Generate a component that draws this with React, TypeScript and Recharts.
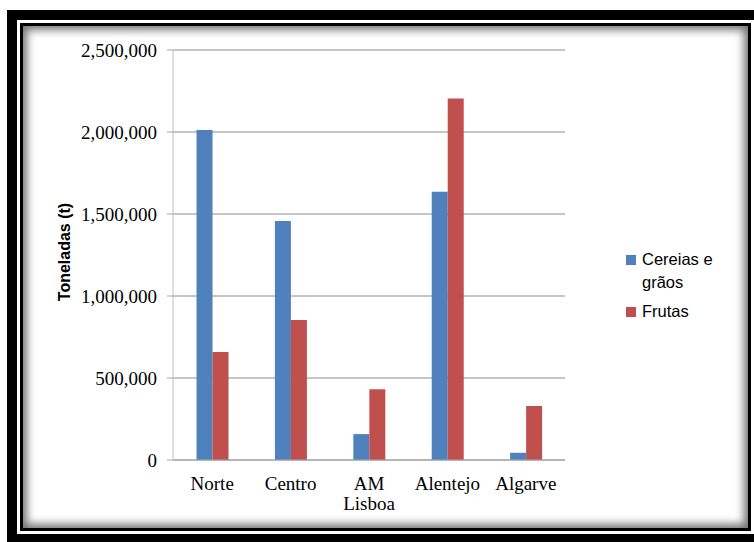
import React from 'react';
import { BarChart, Bar, XAxis, YAxis, CartesianGrid, Legend, Label } from 'recharts';

const regions = ['Norte', 'Centro', 'AM Lisboa', 'Alentejo', 'Algarve'];
const cereais = [2012000, 1457000, 158000, 1636000, 44000];
const frutas = [658000, 853000, 431000, 2205000, 329000];
const yTicks = [0, 500000, 1000000, 1500000, 2000000, 2500000];
const seriesNames = ['Cereias e grãos', 'Frutas'];
const colors = ['#4F81BD', '#C0504D'];

const data = regions.map((r, i) => ({ region: r, cereais: cereais[i], frutas: frutas[i] }));

const XTick = (props: any) => {
  const { x, y, payload } = props;
  const lines = String(payload.value).split(' ');
  return (
    <text x={x} y={y} textAnchor="middle" fontFamily="'Liberation Serif', serif" fontSize={19} fill="#000">
      {lines.map((l: string, i: number) => (
        <tspan key={i} x={x} dy={i === 0 ? 22 : 20}>{l}</tspan>
      ))}
    </text>
  );
};

const LegendContent = () => (
  <div style={{ position: 'relative', width: 120, height: 90, fontFamily: "'Liberation Sans', Arial, sans-serif", fontSize: 16.5, color: '#000' }}>
    <div style={{ position: 'absolute', left: 6, top: 10, width: 10, height: 10, background: colors[0] }} />
    <div style={{ position: 'absolute', left: 22, top: 3, lineHeight: '23px' }}>Cereias e<br />grãos</div>
    <div style={{ position: 'absolute', left: 6, top: 62, width: 10, height: 10, background: colors[1] }} />
    <div style={{ position: 'absolute', left: 22, top: 55, lineHeight: '23px' }}>{seriesNames[1]}</div>
  </div>
);

export default function App() {
  return (
    <div style={{ position: 'absolute', left: 0, top: 0, width: 754, height: 542, overflow: 'hidden', background: '#fff' }}>
      <div style={{ position: 'absolute', left: 7, top: 10, width: 760, height: 540, background: '#000' }} />
      <div style={{ position: 'absolute', left: 17, top: 20, width: 750, height: 514, background: '#fff' }} />
      <div style={{ position: 'absolute', left: 20, top: 23, width: 731, height: 508, boxSizing: 'border-box', border: '3px solid #000', boxShadow: 'inset 0 0 9px 4px rgba(0,0,0,0.55)', background: '#fff' }} />
      <div style={{ position: 'absolute', left: 0, top: 0 }}>
        <BarChart
          width={754}
          height={542}
          data={data}
          margin={{ top: 50, right: 189, bottom: 32, left: 0 }}
          barCategoryGap="30%"
          barGap={0}
        >
          <CartesianGrid vertical={false} stroke="#8c8c8c" />
          <XAxis
            dataKey="region"
            height={50}
            tickLine={false}
            axisLine={{ stroke: '#a6a6a6' }}
            tick={<XTick />}
            interval={0}
          />
          <YAxis
            width={173}
            domain={[0, 2500000]}
            ticks={yTicks}
            interval={0}
            tickSize={6}
            tickMargin={10}
            tickLine={{ stroke: '#a6a6a6' }}
            axisLine={{ stroke: '#bfbfbf' }}
            tickFormatter={(v: number) => v.toLocaleString('en-US')}
            tick={{ fontFamily: "'Liberation Serif', serif", fontSize: 19, fill: '#000' }}
          >
            <Label
              content={() => (
                <text
                  x={70}
                  y={252}
                  transform="rotate(-90 70 252)"
                  textAnchor="middle"
                  fontFamily="'Liberation Sans', Arial, sans-serif"
                  fontWeight="bold"
                  fontSize={16}
                  fill="#000"
                >
                  Toneladas (t)
                </text>
              )}
            />
          </YAxis>
          <Legend
            layout="vertical"
            align="center"
            verticalAlign="middle"
            wrapperStyle={{ left: 620, top: 245, width: 120, height: 90 }}
            content={<LegendContent />}
          />
          <Bar dataKey="cereais" name={seriesNames[0]} fill={colors[0]} isAnimationActive={false} />
          <Bar dataKey="frutas" name={seriesNames[1]} fill={colors[1]} isAnimationActive={false} />
        </BarChart>
      </div>
    </div>
  );
}
